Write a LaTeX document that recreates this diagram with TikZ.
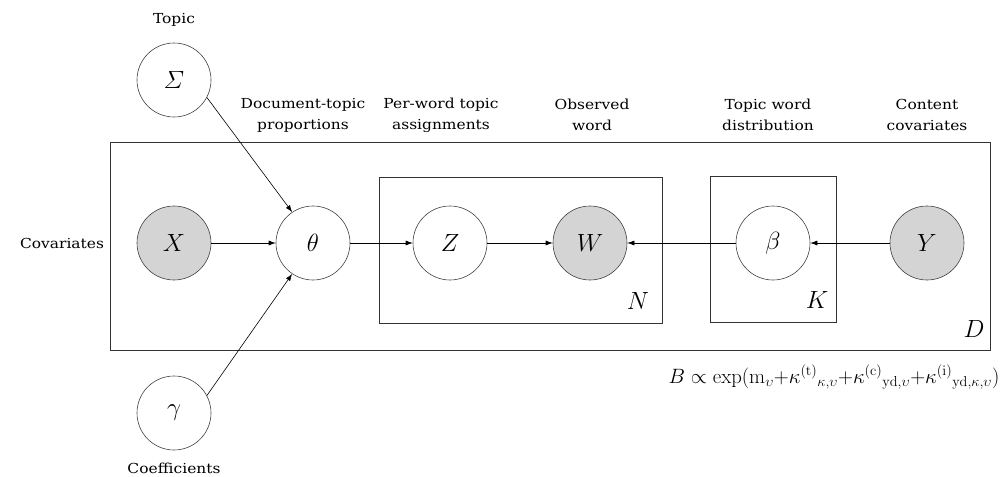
\documentclass[tikz,border=0pt]{standalone}
\usepackage{amsmath}
\usepackage[no-math]{fontspec}
\setmainfont{DejaVu Serif}[FakeStretch=1.12]
\usetikzlibrary{arrows.meta}
\begin{document}
\begin{tikzpicture}[x=1pt,y=-1pt,
  var/.style={circle,draw=black!75,line width=0.6pt,minimum size=74pt,inner sep=0pt,font=\fontsize{25}{28}\selectfont},
  obs/.style={var,fill=black!17},
  lab/.style={font=\fontsize{13.8}{21}\selectfont,align=center},
  plate/.style={draw=black!80,line width=0.7pt},
  plab/.style={font=\fontsize{23}{26}\selectfont},
  arr/.style={-{Latex[length=7pt,width=5pt]},line width=0.6pt}]
\useasboundingbox (0,0) rectangle (1005,477);
% plates
\draw[plate] (110,142) rectangle (990,350);
\draw[plate] (379,177) rectangle (662,323);
\draw[plate] (710,176) rectangle (836,322);
\node[plab] (Nl) at (638,301) {$N$};
\node[plab] (Kl) at (817,300) {$K$};
\node[plab] (Dl) at (974,329) {$D$};
% nodes
\node[var] (S) at (174,80) {$\varSigma$};
\node[obs] (X) at (174,243) {$X$};
\node[var] (th) at (313,243) {$\theta$};
\node[var] (g) at (174,413) {$\gamma$};
\node[var] (Z) at (450,243) {$Z$};
\node[obs] (W) at (590,243) {$W$};
\node[var] (b) at (773,243) {$\beta$};
\node[obs] (Y) at (927,243) {$Y$};
% labels
\node[lab] (lt) at (174,20) {Topic};
\node[lab] (lc) at (62,243) {Covariates};
\node[lab] (lco) at (174,468) {Coefficients};
\node[lab] (l1) at (303,115) {Document-topic\\proportions};
\node[lab] (l2) at (441,115) {Per-word topic\\assignments};
\node[lab] (l3) at (592,115) {Observed\\word};
\node[lab] (l4) at (768,115) {Topic word\\distribution};
\node[lab] (l5) at (927,115) {Content\\covariates};
\node[font=\fontsize{19.5}{22}\selectfont,anchor=east] (f) at (1003,377)
  {$B\propto\exp(\mathrm{m}_{\upsilon}{+}\kappa^{(\mathrm{t})}{}_{\kappa,\upsilon}{+}\kappa^{(\mathrm{c})}{}_{\mathrm{yd},\upsilon}{+}\kappa^{(\mathrm{i})}{}_{\mathrm{yd},\kappa,\upsilon})$};
% edges
\draw[arr] (X) -- (th);
\draw[arr] (S.-28) -- (th.124);
\draw[arr] (g.28) -- (th.-124);
\draw[arr] (th) -- (Z);
\draw[arr] (Z) -- (W);
\draw[arr] (b) -- (W);
\draw[arr] (Y) -- (b);
\end{tikzpicture}
\end{document}
